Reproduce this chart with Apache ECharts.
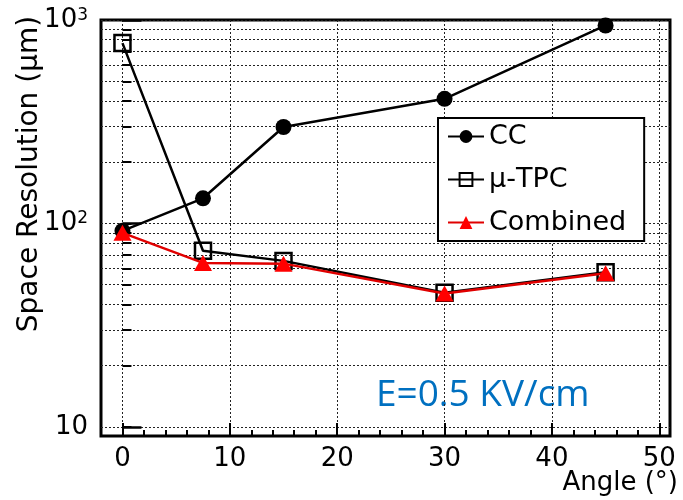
<!DOCTYPE html>
<html>
<head>
<meta charset="utf-8">
<script src="https://cdn.jsdelivr.net/npm/echarts@6/dist/echarts.min.js"></script>
<style>
html, body { margin: 0; padding: 0; background: #fff; }
#chart { width: 683px; height: 500px; }
</style>
</head>
<body>
<div id="chart"></div>
<script>
// data
var angles = [0, 7.5, 15, 30, 45];
var ccValues = [92, 133, 298, 410, 940];
var tpcValues = [770, 73.5, 65.5, 45.7, 57.6];
var combinedValues = [90, 64, 63.5, 45.3, 57];

var xMajorTicks = [0, 10, 20, 30, 40, 50];
var xMinorTicks = [0, 2, 4, 6, 8, 10, 12, 14, 16, 18, 20, 22, 24, 26, 28, 30, 32, 34, 36, 38, 40, 42, 44, 46, 48, 50];
var yMajorTicks = [10, 100, 1000];
var yMinorTicks = [10, 20, 30, 40, 50, 60, 70, 80, 90, 100, 200, 300, 400, 500, 600, 700, 800, 900, 1000];

var FONT = '"DejaVu Sans", sans-serif';

function toPairs(xs, ys) {
	var out = [];
	for (var i = 0; i < xs.length; i++) {
		out.push([xs[i], ys[i]]);
	}
	return out;
}

var dotted = { color: '#222', width: 1, type: [2, 2] };

var chart = echarts.init(document.getElementById('chart'));

var option = {
	animation: false,
	backgroundColor: '#fff',
	grid: {
		left: 101, top: 20, width: 569, height: 416,
		show: true, borderColor: '#000', borderWidth: 3, backgroundColor: 'transparent'
	},
	legend: {
		orient: 'vertical',
		left: 438, top: 118,
		itemWidth: 36, itemHeight: 16, itemGap: 16,
		padding: [5, 18, 5, 9],
		backgroundColor: '#fff', borderColor: '#000', borderWidth: 2,
		textStyle: { fontFamily: FONT, fontSize: 27, color: '#000' },
		data: ['CC', 'μ-TPC', 'Combined']
	},
	xAxis: [
		{
			type: 'value', min: -2, max: 51,
			axisLine: { show: false },
			axisTick: { inside: true, length: 6, lineStyle: { color: '#000', width: 2 }, customValues: xMinorTicks },
			axisLabel: { customValues: xMajorTicks, margin: 10, color: '#000', fontFamily: FONT, fontSize: 26 },
			splitLine: { show: false }
		},
		{
			type: 'value', min: -2, max: 51, position: 'bottom',
			axisLine: { show: false },
			axisTick: { inside: true, length: 13, lineStyle: { color: '#000', width: 2 }, customValues: xMajorTicks },
			axisLabel: { show: false },
			splitLine: { show: true, lineStyle: dotted }
		}
	],
	yAxis: [
		{
			type: 'log', min: 9.03, max: 1000,
			axisLine: { show: false },
			axisTick: { inside: true, length: 9, lineStyle: { color: '#000', width: 2 }, customValues: yMinorTicks },
			axisLabel: {
				customValues: yMajorTicks, margin: 13, color: '#000',
				formatter: function (v) {
					var e = Math.round(Math.log(v) / Math.LN10);
					if (e === 1) return '{b|10}';
					return '{b|10}{s|' + e + '}';
				},
				rich: {
					b: { fontFamily: FONT, fontSize: 26, color: '#000', lineHeight: 26 },
					s: { fontFamily: FONT, fontSize: 17, color: '#000', verticalAlign: 'top', lineHeight: 17 }
				}
			},
			splitLine: { show: true, lineStyle: dotted }
		},
		{
			type: 'log', min: 9.03, max: 1000, position: 'left',
			axisLine: { show: false },
			axisTick: { inside: true, length: 19, lineStyle: { color: '#000', width: 2.5 }, customValues: yMajorTicks },
			axisLabel: { show: false },
			splitLine: { show: false }
		}
	],
	graphic: [
		{
			type: 'text', x: 30, y: 174, rotation: Math.PI / 2,
			style: { text: 'Space Resolution (μm)', fontFamily: FONT, fontSize: 28, fill: '#000', align: 'center', verticalAlign: 'middle' }
		},
		{
			type: 'text', x: 678, y: 483,
			style: { text: 'Angle (°)', fontFamily: FONT, fontSize: 26, fill: '#000', align: 'right', verticalAlign: 'middle' }
		},
		{
			type: 'text', x: 376, y: 395,
			style: { text: 'E=0.5 KV/cm', fontFamily: '"Open Sans", sans-serif', fontSize: 37, fill: '#0070C0', align: 'left', verticalAlign: 'middle' }
		}
	],
	series: [
		{
			name: 'CC', type: 'line', data: toPairs(angles, ccValues),
			symbol: 'circle', symbolSize: 16,
			lineStyle: { color: '#000', width: 2.5 },
			itemStyle: { color: '#000' },
			z: 2
		},
		{
			name: 'μ-TPC', type: 'line', data: toPairs(angles, tpcValues),
			symbol: 'rect', symbolSize: 16,
			lineStyle: { color: '#000', width: 2.5 },
			itemStyle: { color: 'rgba(255,255,255,0)', borderColor: '#000', borderWidth: 2.5 },
			z: 3
		},
		{
			name: 'Combined', type: 'line', data: toPairs(angles, combinedValues),
			symbol: 'triangle', symbolSize: [18, 16],
			lineStyle: { color: '#e00000', width: 2.5 },
			itemStyle: { color: '#ff0000' },
			z: 4
		}
	]
};

chart.setOption(option);
</script>
</body>
</html>
